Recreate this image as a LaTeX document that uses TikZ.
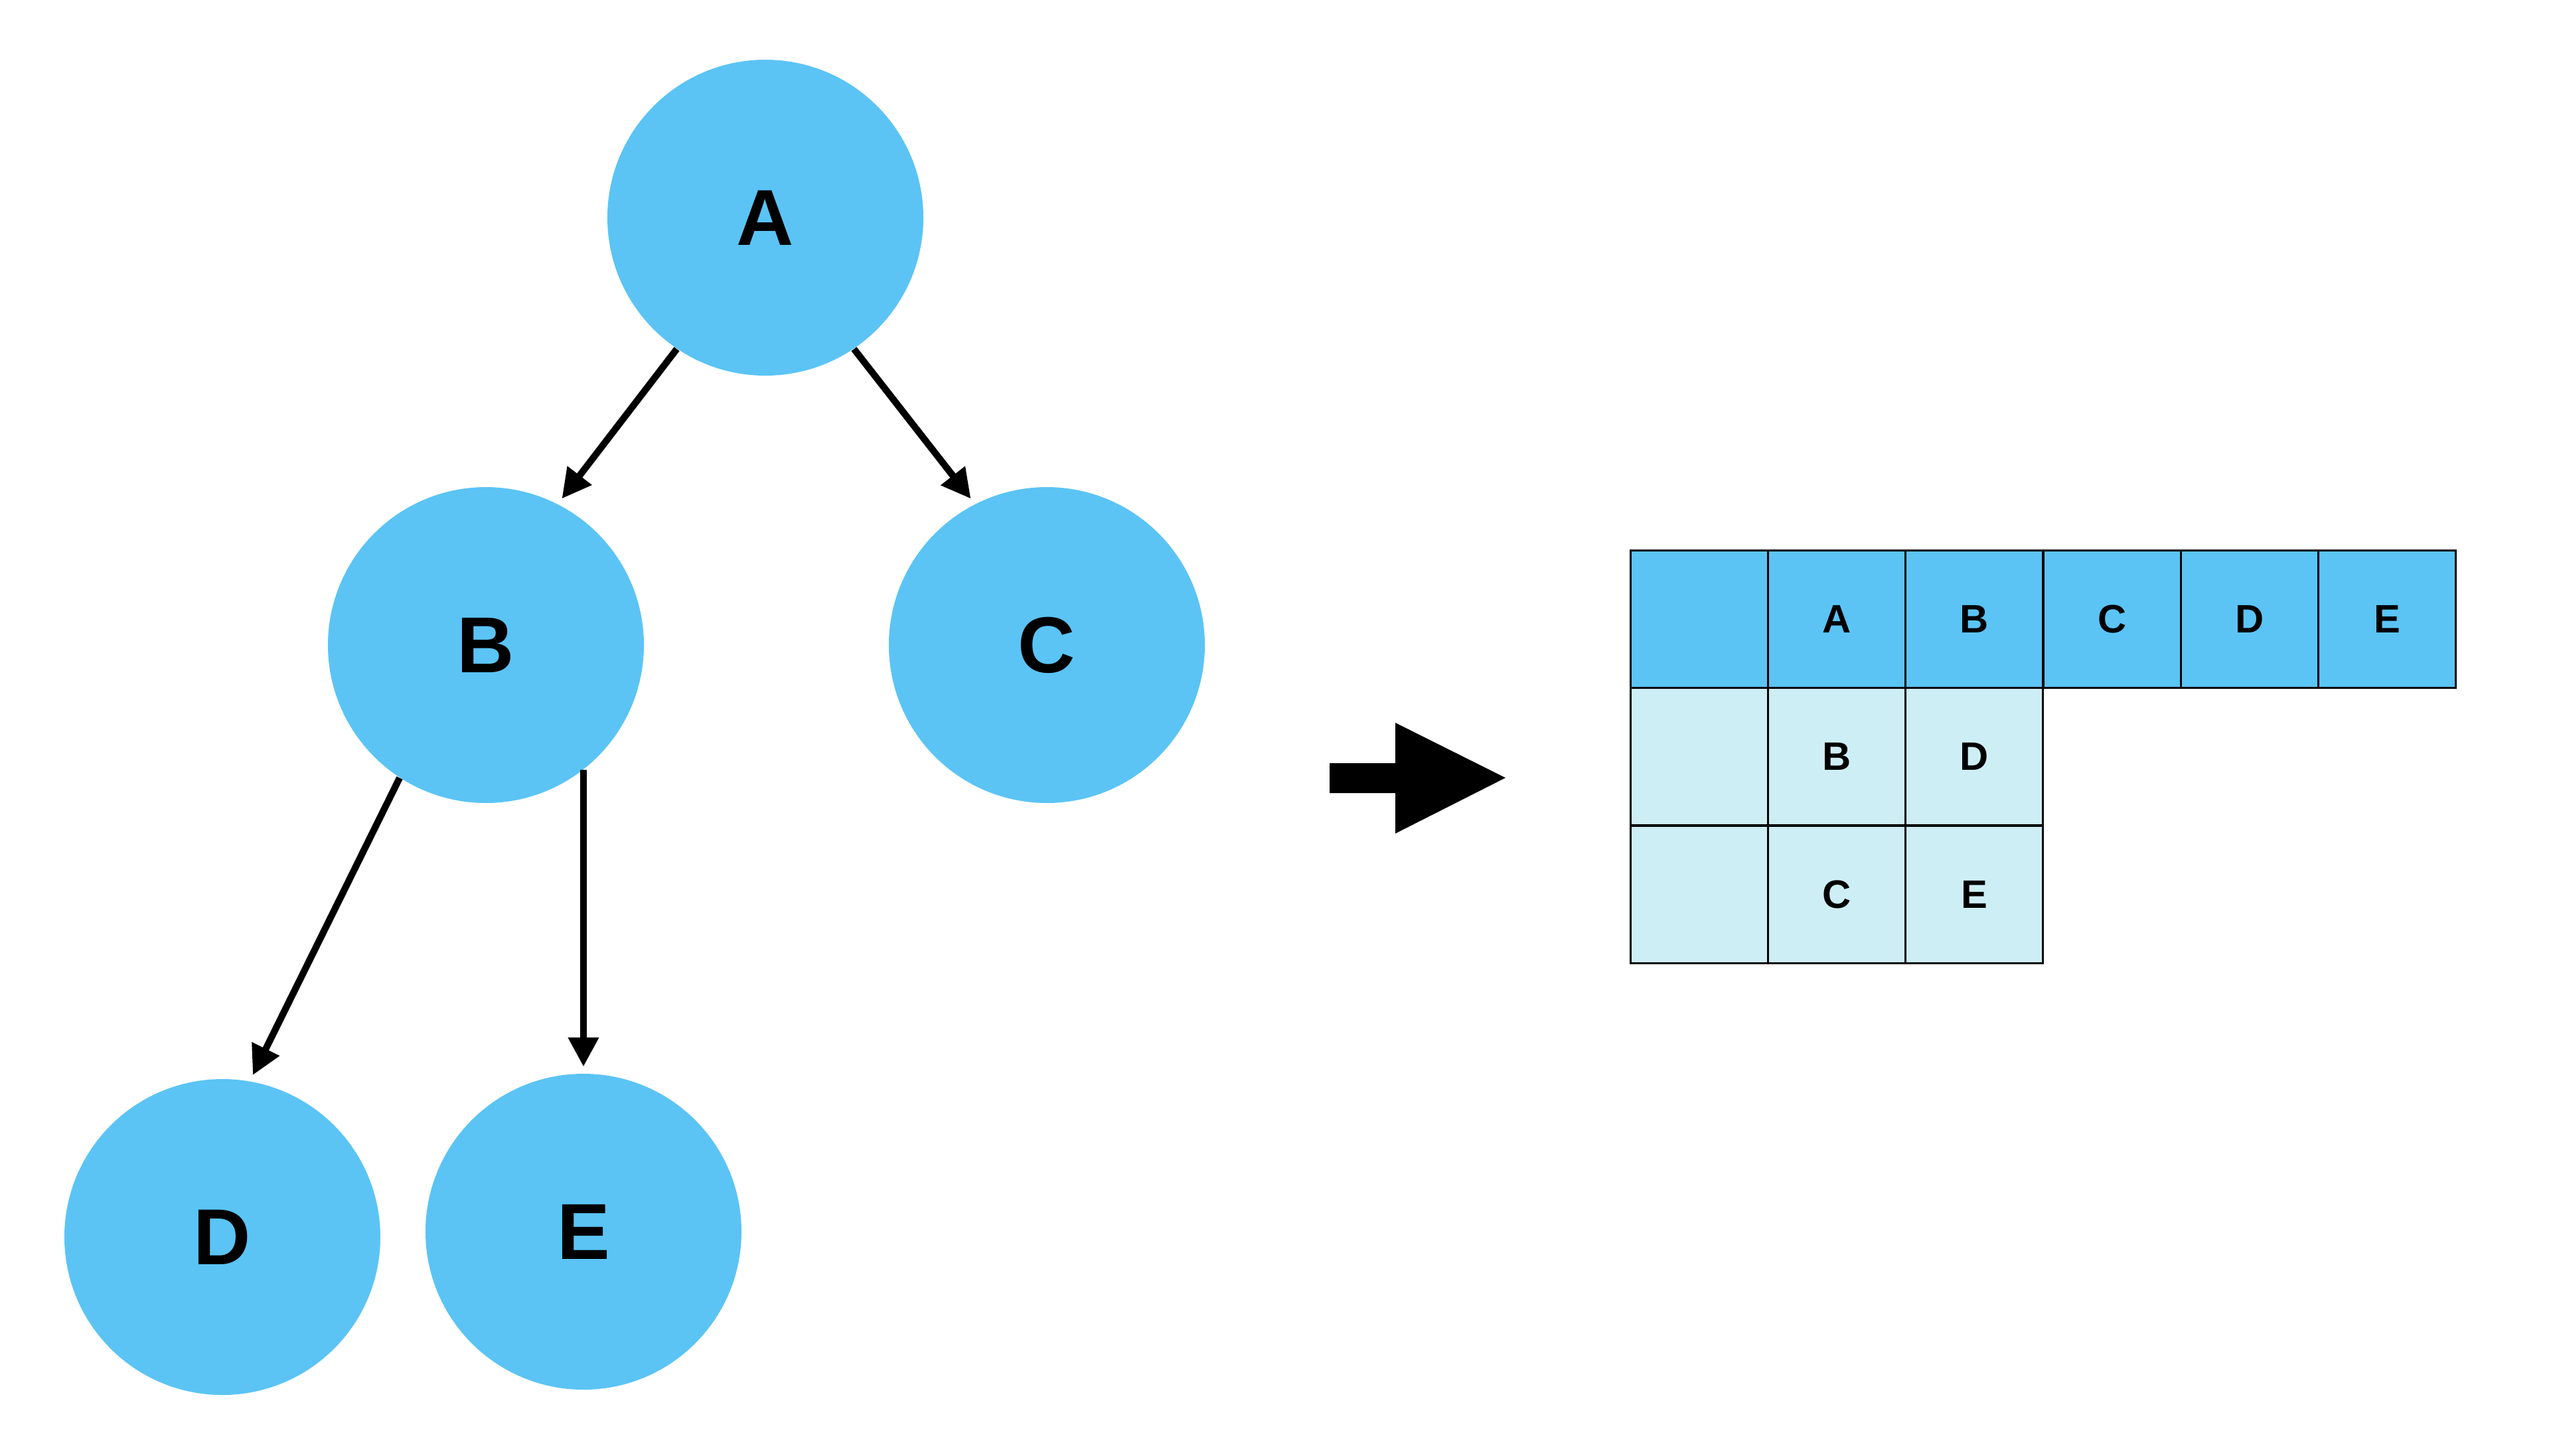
\documentclass[tikz,border=0pt]{standalone}
\usepackage{fontspec}
\setmainfont{Liberation Sans}
\usepackage{xcolor}
\usepackage{tikz}
\usetikzlibrary{arrows.meta,positioning,calc}
\definecolor{treecolor}{RGB}{91,196,245}
\definecolor{childcolor}{RGB}{206,238,245}

\begin{document}
\begin{tikzpicture}[
    vertex/.style={circle, fill=treecolor, minimum size=4.76cm, inner sep=0pt, font=\fontsize{34}{40}\selectfont\bfseries},
    cell/.style={rectangle, draw, line width=1pt, minimum size=2.073cm, inner sep=0pt, outer sep=0pt, font=\fontsize{17}{20}\selectfont\bfseries},
    head/.style={cell, fill=treecolor},
    child/.style={cell, fill=childcolor},
    arrow/.style={-{Triangle[length=0.44cm,width=0.44cm]}, line width=2.9pt, shorten >=0.1cm}
]
\useasboundingbox (0,0) rectangle (38.4,-21.93);

% tree
\node[vertex] (A) at (11.53,-3.28) {A};
\node[vertex] (B) at (7.32,-9.72) {B};
\node[vertex] (C) at (15.77,-9.72) {C};
\node[vertex] (D) at (3.35,-18.64) {D};
\node[vertex] (E) at (8.79,-18.56) {E};

\draw[arrow] (A.236) -- (B.63);
\draw[arrow] (A.-56) -- (C.117);
\draw[arrow] (B.-123) -- (D.80);
\draw[arrow] (B.-52) -- (B.-52 |- E.north);

% big arrow
\fill (20.03,-11.50) -- (21.02,-11.50) -- (21.02,-10.89) -- (22.68,-11.72)
  -- (21.02,-12.56) -- (21.02,-11.95) -- (20.03,-11.95) -- cycle;

% table
\node[head] (h0) at (25.60,-9.33) {};
\node[head] (hA) at (27.67,-9.33) {A};
\node[head] (hB) at (29.74,-9.33) {B};
\node[head] (hC) at (31.82,-9.33) {C};
\node[head] (hD) at (33.89,-9.33) {D};
\node[head] (hE) at (35.96,-9.33) {E};

\node[child] (r1) at (25.60,-11.40) {};
\node[child] (r1a) at (27.67,-11.40) {B};
\node[child] (r1b) at (29.74,-11.40) {D};
\node[child] (r2) at (25.60,-13.48) {};
\node[child] (r2a) at (27.67,-13.48) {C};
\node[child] (r2b) at (29.74,-13.48) {E};

\end{tikzpicture}
\end{document}
